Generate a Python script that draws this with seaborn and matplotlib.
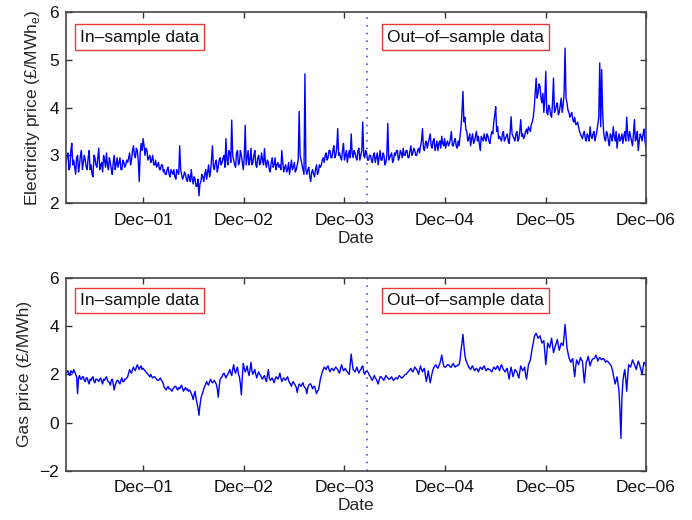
import matplotlib
matplotlib.use("Agg")
import matplotlib.pyplot as plt
import pandas as pd
import seaborn as sns

# Electricity and gas prices, Feb 2001 - Dec 2006.
# Values are sampled twice a week: at the start of each week and mid-week.
start_date = "2001-02-23"
split_date = "2004-02-22"

electricity_wk = [
    2.85, 3.05, 2.75, 3.25, 2.9, 2.6, 3.0, 2.8, 3.1, 2.85,
    2.9, 2.7, 3.1, 2.8, 2.55, 2.95, 2.75, 3.15, 2.8, 2.65, 2.9, 3.05, 2.7, 2.85, 2.6, 3.0, 2.8, 2.75, 2.95, 2.7, 2.85, 2.8,
    2.85, 3.05, 2.9, 3.2, 2.95, 3.1, 2.45, 3.25, 3.35, 3.0,
    3.1, 2.95, 2.85, 3.0, 2.8, 2.75, 2.85, 2.7, 2.8,
    2.7, 2.6, 2.75, 2.55, 2.65, 2.7, 2.5, 2.65, 3.2, 2.6, 2.55,
    2.6, 2.45, 2.55, 2.7, 2.4, 2.5, 2.35, 2.15, 2.45, 2.55,
    2.6, 2.5, 2.8, 2.65, 3.2, 2.7, 2.9, 2.75, 2.95,
    2.85, 3.0, 3.35, 2.8, 3.05, 3.74, 2.9, 2.75, 3.1, 2.85, 3.0, 2.7, 3.63, 2.95, 2.8, 3.15, 2.85, 3.1, 2.75, 3.0, 2.85,
    2.9, 3.14, 2.75, 2.85, 2.65, 2.95, 2.8, 2.7, 2.85,
    2.8, 3.1, 2.65, 2.8, 2.7, 2.6, 2.9, 2.75, 2.65, 2.8,
    3.92, 2.9, 2.7, 4.71,
    2.6, 2.75, 2.45, 2.7, 2.55, 2.8, 2.65,
    2.75, 2.9, 2.85, 3.05, 2.95,
    3.1, 2.95, 3.2, 3.0, 3.56, 3.05, 2.9, 3.25, 3.0, 2.85, 3.1, 3.45, 2.95, 3.05, 2.9, 3.15, 3.0, 3.7, 2.95, 3.05, 2.9,
    3.0, 2.85, 3.05, 2.95, 2.8, 3.1, 2.9, 3.0, 2.85, 3.67, 2.95, 3.05, 2.9, 3.0, 3.1, 2.95, 3.05, 3.15, 3.0, 3.1, 2.95, 3.2, 3.05, 3.1, 3.0, 3.15,
    3.2, 3.56, 3.1, 3.3, 3.25, 3.45, 3.15, 3.35, 3.2, 3.1, 3.3, 3.4, 3.2, 3.15, 3.3, 3.25, 3.5, 3.2, 3.35, 3.15, 3.2,
    3.6, 4.34, 3.8,
    3.5, 3.35, 3.2, 3.45, 3.3, 3.5, 3.4, 3.1, 3.35, 3.45, 3.3, 3.4, 3.25, 3.5,
    3.7, 4.02, 3.6,
    3.4, 3.3, 3.5, 3.35, 3.45, 3.25, 3.81, 3.4, 3.3, 3.5, 3.35, 3.75, 3.45, 3.4, 3.55, 3.6, 3.5, 3.7,
    4.0, 4.62, 4.3, 4.45, 4.1,
    3.9, 4.76, 3.85, 4.0, 3.8, 4.62, 3.95, 4.1, 3.9, 4.2, 4.05, 5.25,
    4.1, 3.9, 3.85, 3.75, 3.8, 3.65, 3.6,
    3.45, 3.35, 3.5, 3.3, 3.4, 3.6, 3.35, 3.5, 3.4, 3.65,
    4.94, 4.8,
    3.5, 3.3, 3.45, 3.2, 3.4, 3.6, 3.3, 3.15, 3.45, 3.35, 3.25, 3.5, 3.8, 3.3, 3.4, 3.2, 3.75, 3.35, 3.1, 3.45, 3.3, 3.55, 3.15,
]

electricity_mid = [
    3.0, 2.7, 3.1, 2.8, 2.75, 2.95, 2.65, 3.0, 2.7, 3.0,
    2.75, 2.95, 2.7, 2.6, 3.0, 2.8, 2.95, 2.7, 2.85, 3.0, 2.75, 2.8, 2.95, 2.7, 2.85, 2.7, 2.95, 2.85, 2.7, 2.9, 2.75, 2.9,
    2.95, 2.8, 3.1, 3.0, 3.15, 2.9, 3.05, 3.1, 3.2, 3.15,
    2.9, 3.0, 2.9, 2.8, 2.9, 2.8, 2.7, 2.8, 2.65,
    2.6, 2.7, 2.6, 2.7, 2.6, 2.55, 2.7, 2.6, 2.7, 2.5, 2.65,
    2.5, 2.6, 2.45, 2.5, 2.55, 2.35, 2.5, 2.4, 2.6, 2.45,
    2.7, 2.65, 2.55, 2.9, 2.75, 2.85, 2.65, 2.9, 2.8,
    2.95, 2.75, 2.9, 3.1, 2.85, 3.0, 2.8, 3.05, 2.8, 3.1, 2.85, 2.95, 2.8, 3.1, 2.9, 2.8, 3.0, 2.8, 2.95, 2.8, 3.05,
    2.8, 2.85, 2.9, 2.7, 2.85, 2.75, 2.95, 2.8, 2.75,
    2.7, 2.85, 2.75, 2.65, 2.85, 2.75, 2.7, 2.85, 2.7, 2.9,
    3.0, 2.8, 2.6, 2.7,
    2.7, 2.55, 2.65, 2.6, 2.7, 2.6, 2.8,
    2.8, 2.95, 3.0, 2.9, 3.1,
    2.95, 3.1, 2.95, 3.15, 3.0, 2.95, 3.1, 2.9, 3.1, 3.0, 2.95, 3.05, 3.1, 2.95, 3.1, 2.9, 3.1, 3.0, 3.1, 2.9, 3.0,
    2.9, 3.0, 2.85, 3.05, 2.95, 2.9, 3.05, 2.8, 3.0, 2.9, 3.0, 2.85, 3.05, 3.1, 2.9, 3.1, 2.95, 3.0, 3.1, 2.95, 3.1, 3.0, 3.15, 3.0, 3.1, 3.05,
    3.3, 3.15, 3.25, 3.15, 3.35, 3.2, 3.3, 3.1, 3.3, 3.25, 3.15, 3.25, 3.35, 3.25, 3.2, 3.35, 3.2, 3.3, 3.2, 3.3, 3.4,
    3.9, 3.7, 3.55,
    3.3, 3.45, 3.35, 3.25, 3.4, 3.3, 3.25, 3.4, 3.3, 3.35, 3.45, 3.3, 3.4, 3.45,
    3.85, 3.5, 3.35,
    3.35, 3.45, 3.3, 3.4, 3.3, 3.5, 3.45, 3.35, 3.45, 3.3, 3.5, 3.4, 3.35, 3.5, 3.45, 3.55, 3.65, 3.8,
    4.3, 4.2, 4.5, 4.2, 4.3,
    4.2, 3.9, 4.05, 3.85, 4.1, 3.9, 4.05, 3.85, 4.05, 3.9, 4.3, 4.2,
    3.95, 3.8, 3.9, 3.7, 3.65, 3.7, 3.5,
    3.4, 3.45, 3.35, 3.45, 3.3, 3.4, 3.45, 3.3, 3.5, 3.8,
    3.6, 3.9,
    3.35, 3.5, 3.3, 3.45, 3.3, 3.4, 3.5, 3.35, 3.3, 3.45, 3.4, 3.3, 3.45, 3.5, 3.3, 3.45, 3.3, 3.5, 3.3, 3.4, 3.45, 3.3,
]

gas_wk = [
    2.05, 2.15, 1.95, 2.1, 2.2, 2.0,
    1.2,
    1.95, 1.8, 1.9, 1.7, 1.85, 1.6, 1.75, 1.9, 1.65, 1.8, 1.7, 1.85, 1.6, 1.75, 1.9, 1.7, 1.55, 1.8, 1.35, 1.65, 1.75, 1.6, 1.85, 1.7, 1.8,
    1.9, 2.2, 2.05, 2.3, 2.15, 2.4, 2.2, 2.35, 2.25,
    2.15, 2.05, 1.95, 2.0, 1.85, 1.9, 1.8, 1.75, 1.85, 1.7,
    1.45, 1.35, 1.5, 1.4, 1.3, 1.45, 1.5, 1.35, 1.4, 1.55, 1.3, 1.45, 1.4, 1.35,
    1.2, 0.95, 1.3, 0.8, 0.3, 1.0, 1.25,
    1.5, 1.7, 1.55, 1.8, 1.65, 1.75, 1.6, 1.05, 1.8,
    1.9, 2.05, 1.85, 2.0, 2.2, 1.95, 2.4, 2.05, 2.3, 1.9, 1.15, 2.45, 2.1, 2.35, 1.95, 2.5, 2.0, 2.2, 1.85, 2.1, 1.95,
    1.8, 1.95, 1.7, 2.2, 1.75, 1.85, 1.65, 1.9, 1.8, 2.05, 1.7, 1.85, 1.75, 1.9,
    1.65, 1.5, 1.7, 1.55, 1.25, 1.6, 1.5, 1.65, 1.45, 1.2, 1.55, 1.6, 1.4, 1.5, 1.2, 1.35,
    1.8, 2.1, 2.3,
    2.2, 2.35, 2.1, 2.25, 2.15, 2.3, 2.2, 2.05, 2.4, 2.15, 2.25, 2.1, 2.0, 2.84, 2.2, 2.1, 2.3, 2.05, 2.2, 2.35, 2.0, 2.15, 2.05,
    1.9, 1.75, 1.95, 1.8, 1.6, 1.9, 1.85, 1.75, 1.95, 1.85, 1.8, 1.9, 1.75, 1.85, 1.8, 1.95, 1.85, 1.9, 2.0,
    2.05, 2.15, 2.25, 2.1, 2.3, 2.2, 2.0, 2.35, 2.1, 2.25, 1.7, 2.15, 1.65, 2.05,
    2.3, 2.4, 2.25, 2.45, 2.8, 2.35, 2.3, 2.4, 2.35, 2.3, 2.45, 2.3, 2.35, 2.4,
    3.0, 3.66, 2.8,
    2.5, 2.3, 2.2, 2.35, 2.15, 2.25, 2.1, 2.3, 2.2, 2.35, 2.15, 2.25, 2.2, 2.1, 2.3, 2.2, 2.35, 2.15, 2.4, 2.2, 2.1, 2.25, 1.8, 2.3, 1.9, 2.2, 2.1, 1.85, 2.35, 2.15, 2.3, 1.8, 2.4,
    2.6, 3.1, 3.55, 3.7, 3.5, 3.6, 3.3,
    3.4, 2.4, 3.3, 3.1, 3.5, 2.9, 3.2, 3.45, 3.0, 3.3, 3.2, 4.07,
    3.1, 2.7, 2.5, 2.65, 1.9, 2.6, 2.4, 2.7, 2.55, 1.65, 2.5, 2.75, 2.35, 2.6, 2.65, 2.8, 2.55, 2.7, 2.6, 2.65, 2.5, 2.55, 2.45, 2.35,
    2.0, 1.6, 1.9, 1.3, -0.66,
    1.7, 2.2, 1.3, 2.4, 2.3, 2.6, 2.4, 2.2, 2.55, 2.3, 2.0, 2.5, 2.35,
]

gas_mid = [
    2.1, 2.0, 2.15, 2.05, 2.1, 1.9,
    1.85,
    1.8, 1.9, 1.75, 1.85, 1.7, 1.8, 1.85, 1.7, 1.8, 1.75, 1.8, 1.7, 1.8, 1.85, 1.75, 1.65, 1.75, 1.6, 1.55, 1.75, 1.65, 1.75, 1.7, 1.8, 1.85,
    2.05, 2.1, 2.2, 2.2, 2.3, 2.3, 2.3, 2.2, 2.2,
    2.1, 2.0, 1.9, 1.9, 1.9, 1.85, 1.75, 1.8, 1.75, 1.6,
    1.4, 1.45, 1.4, 1.35, 1.4, 1.5, 1.4, 1.45, 1.5, 1.4, 1.4, 1.35, 1.3, 1.3,
    1.1, 1.15, 1.0, 0.6, 0.7, 1.15, 1.4,
    1.6, 1.6, 1.7, 1.7, 1.7, 1.65, 1.4, 1.5, 1.85,
    2.0, 1.95, 1.95, 2.1, 2.05, 2.2, 2.15, 2.2, 2.0, 1.6, 1.9, 2.25, 2.2, 2.1, 2.2, 2.15, 2.1, 2.0, 2.0, 2.0, 1.85,
    1.9, 1.8, 1.95, 1.85, 1.8, 1.75, 1.8, 1.85, 1.9, 1.85, 1.8, 1.8, 1.85, 1.75,
    1.6, 1.65, 1.6, 1.45, 1.45, 1.55, 1.6, 1.5, 1.4, 1.45, 1.6, 1.5, 1.5, 1.35, 1.3, 1.55,
    1.95, 2.2, 2.25,
    2.3, 2.2, 2.2, 2.2, 2.25, 2.25, 2.1, 2.25, 2.25, 2.2, 2.15, 2.05, 2.4, 2.5, 2.15, 2.2, 2.15, 2.15, 2.3, 2.1, 2.1, 2.1, 1.95,
    1.8, 1.85, 1.85, 1.7, 1.75, 1.9, 1.8, 1.85, 1.9, 1.8, 1.85, 1.8, 1.8, 1.85, 1.9, 1.9, 1.85, 1.95, 2.0,
    2.1, 2.2, 2.15, 2.2, 2.25, 2.1, 2.2, 2.2, 2.2, 1.95, 1.9, 1.9, 1.85, 2.2,
    2.35, 2.3, 2.35, 2.6, 2.55, 2.3, 2.35, 2.4, 2.3, 2.4, 2.35, 2.35, 2.4, 2.6,
    3.3, 3.2, 2.6,
    2.4, 2.25, 2.3, 2.25, 2.2, 2.2, 2.2, 2.25, 2.3, 2.25, 2.2, 2.2, 2.15, 2.2, 2.25, 2.3, 2.25, 2.3, 2.3, 2.15, 2.2, 2.0, 2.1, 2.1, 2.05, 2.15, 1.95, 2.1, 2.25, 2.2, 2.0, 2.1, 2.5,
    2.85, 3.3, 3.65, 3.6, 3.55, 3.45, 3.35,
    2.9, 2.85, 3.2, 3.3, 3.2, 3.05, 3.3, 3.2, 3.15, 3.25, 3.6, 3.6,
    2.9, 2.6, 2.6, 2.25, 2.3, 2.5, 2.55, 2.6, 2.1, 2.1, 2.6, 2.55, 2.5, 2.65, 2.7, 2.7, 2.65, 2.65, 2.65, 2.6, 2.55, 2.5, 2.4, 2.2,
    1.8, 1.75, 1.6, 0.5, 1.0,
    2.0, 1.8, 1.9, 2.35, 2.45, 2.5, 2.3, 2.4, 2.45, 2.15, 2.3, 2.45,
]

tick_dates = ["2001-12-01", "2002-12-01", "2003-12-01", "2004-12-01", "2005-12-01", "2006-12-01"]
tick_labels = ["Dec\u201301", "Dec\u201302", "Dec\u201303", "Dec\u201304", "Dec\u201305", "Dec\u201306"]
elec_yticks = [2, 3, 4, 5, 6]
gas_yticks = [-2, 0, 2, 4, 6]
in_label = "In\u2013sample data"
out_label = "Out\u2013of\u2013sample data"

wk_dates = pd.date_range(start_date, periods=len(electricity_wk), freq="7D")
mid_dates = wk_dates[:len(electricity_mid)] + pd.Timedelta(hours=84)
df = pd.concat([
    pd.DataFrame({"Date": wk_dates, "electricity": electricity_wk, "gas": gas_wk}),
    pd.DataFrame({"Date": mid_dates, "electricity": electricity_mid, "gas": gas_mid}),
]).sort_values("Date").reset_index(drop=True)

sns.set_theme(style="white")
plt.rcParams["font.family"] = ["Liberation Sans", "DejaVu Sans"]
plt.rcParams["mathtext.fontset"] = "custom"
plt.rcParams["mathtext.rm"] = "Liberation Sans"

fig = plt.figure(figsize=(6.92, 5.2), dpi=100)
ax1 = fig.add_axes([0.0954, 0.6096, 0.8381, 0.3667])
ax2 = fig.add_axes([0.0954, 0.0948, 0.8381, 0.3706])

panels = [
    (ax1, "electricity", r"Electricity price (£/MWh$_\mathrm{e}$)", elec_yticks, 0.870),
    (ax2, "gas", "Gas price (£/MWh)", gas_yticks, 0.882),
]

for ax, col, ylabel, yticks, box_y in panels:
    sns.lineplot(data=df, x="Date", y=col, ax=ax, color="#0000ff", linewidth=1.0)
    ax.axvline(pd.Timestamp(split_date), color="#5050e0", linestyle=(0, (1, 3.6)), linewidth=1.2)
    ax.set_xlim(pd.Timestamp(start_date), pd.Timestamp(tick_dates[-1]))
    ax.set_ylim(yticks[0], yticks[-1])
    ax.set_yticks(yticks)
    ax.set_yticklabels([("\u2212%d" % -t) if t < 0 else str(t) for t in yticks])
    ax.set_xticks(pd.to_datetime(tick_dates))
    ax.set_xticklabels(tick_labels)
    ax.set_xlabel("Date", fontsize=12.5, labelpad=2)
    ax.set_ylabel(ylabel, fontsize=12.5, labelpad=5)
    ax.tick_params(direction="in", length=4, width=1, colors="#333333",
                   labelcolor="#111111", labelsize=12.5,
                   top=True, right=True, bottom=True, left=True)
    ax.tick_params(axis="x", pad=7)
    ax.tick_params(axis="y", pad=5)
    for sp in ax.spines.values():
        sp.set_color("#444444")
        sp.set_linewidth(1.2)
    box = dict(boxstyle="square,pad=0.3", facecolor="white", edgecolor="#e83a3a", linewidth=1.0)
    ax.text(0.024, box_y, in_label, transform=ax.transAxes, ha="left", va="center",
            fontsize=12.5, color="#111111", bbox=box)
    ax.text(0.553, box_y, out_label, transform=ax.transAxes, ha="left", va="center",
            fontsize=12.5, color="#111111", bbox=box)

fig.savefig("out.png", dpi=100)
